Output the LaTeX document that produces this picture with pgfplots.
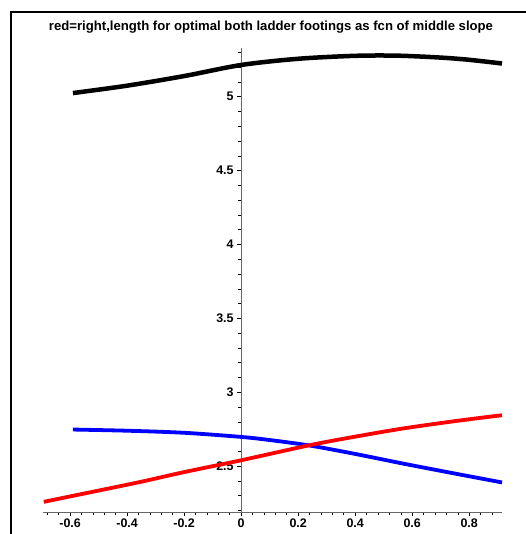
\documentclass[border=0pt]{standalone}
\usepackage{fontspec}
\setmainfont{Liberation Sans}
\usepackage{graphicx}
\usepackage{pgfplots}
\pgfplotsset{compat=1.18}
\begin{document}
\begin{tikzpicture}[x=1bp,y=1bp]
\useasboundingbox (0,0) rectangle (526,534);
\draw[line width=1.2bp] (11,0) -- (11,522) -- (526,522);
\node[inner sep=0pt] at (271,507) {\resizebox{444bp}{!}{\bfseries\fontsize{10}{12}\selectfont red=right,length for optimal both ladder footings as fcn of middle slope}};
\begin{axis}[
  at={(43bp,22bp)}, anchor=south west,
  scale only axis, width=459bp, height=464bp,
  xmin=-0.695, xmax=0.915, ymin=2.19, ymax=5.33,
  axis x line=bottom, axis y line=center,
  axis line style={-, draw=black!60, line width=0.9bp},
  hide obscured x ticks=false, hide obscured y ticks=false,
  xtick={-0.6,-0.4,-0.2,0,0.2,0.4,0.6,0.8},
  ytick={2.5,3,3.5,4,4.5,5},
  minor xtick={-0.68,-0.64,...,0.92},
  minor ytick={2.2,2.3,...,5.35},
  tick align=outside,
  major tick length=4bp, minor tick length=3bp,
  tick style={black, line width=0.6bp},
  ticklabel style={font=\bfseries\fontsize{12.5}{14}\selectfont},
  xticklabel style={yshift=1bp},
  /pgf/number format/assume math mode=true,
  clip=false,
]
\addplot[black, line width=4.5bp, smooth] coordinates {
(-0.59,5.025) (-0.4,5.075) (-0.2,5.14) (0,5.215) (0.2,5.257) (0.4,5.277) (0.55,5.278) (0.7,5.265) (0.8,5.25) (0.915,5.225)
};
\addplot[blue, line width=3.8bp, smooth] coordinates {
(-0.59,2.748) (-0.4,2.74) (-0.2,2.726) (0,2.698) (0.1,2.677) (0.24,2.64) (0.4,2.583) (0.567,2.518) (0.75,2.45) (0.915,2.39)
};
\addplot[red, line width=3.8bp, smooth] coordinates {
(-0.692,2.259) (-0.5,2.335) (-0.35,2.395) (-0.2,2.46) (0,2.54) (0.24,2.642) (0.4,2.70) (0.567,2.755) (0.75,2.805) (0.915,2.845)
};
\end{axis}
\end{tikzpicture}
\end{document}
